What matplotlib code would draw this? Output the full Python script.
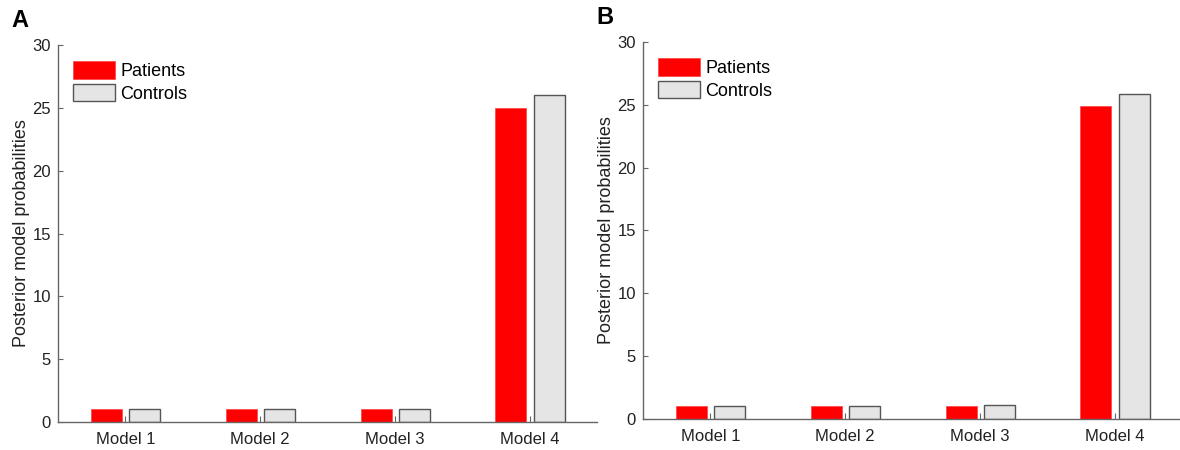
import numpy as np
import matplotlib.pyplot as plt
from matplotlib.patches import Patch

plt.rcParams['font.family'] = ['Liberation Sans', 'DejaVu Sans']

models = ["Model 1", "Model 2", "Model 3", "Model 4"]

# panel A
patients_a = [1.0, 1.0, 1.0, 25.0]
controls_a = [1.0, 1.0, 1.0, 26.0]

# panel B
patients_b = [1.0, 1.0, 1.0, 24.9]
controls_b = [1.0, 1.0, 1.1, 25.85]

red = "#ff0000"
grey = "#e5e5e5"
axis_col = "#666666"


def draw_panel(ax, patients, controls, letter):
    x = np.arange(1, len(models) + 1)
    w = 0.23
    ax.bar(x - 0.14, patients, w, color=red, edgecolor="#ff4040", linewidth=0.5)
    ax.bar(x + 0.145, controls, w, color=grey, edgecolor="#555555", linewidth=1.0)
    ax.set_xlim(0.5, 4.5)
    ax.set_ylim(0, 30)
    ax.set_xticks(x)
    ax.set_xticklabels(models, fontsize=12)
    ax.set_yticks(np.arange(0, 31, 5))
    ax.tick_params(axis='y', direction='in', length=3.5, colors=axis_col,
                   labelcolor="#222222", labelsize=12, pad=5)
    ax.tick_params(axis='x', direction='in', length=4, colors=axis_col,
                   labelcolor="#222222", pad=7)
    for s in ["top", "right"]:
        ax.spines[s].set_visible(False)
    for s in ["left", "bottom"]:
        ax.spines[s].set_color(axis_col)
        ax.spines[s].set_linewidth(1.0)
    ax.set_ylabel("Posterior model probabilities", fontsize=13, color="#222222",
                  labelpad=2)
    handles = [Patch(facecolor=red, edgecolor="#ff4040", linewidth=0.5),
               Patch(facecolor=grey, edgecolor="#555555", linewidth=1.0)]
    ax.legend(handles, ["Patients", "Controls"], loc="upper left",
              bbox_to_anchor=(0.005, 0.99), frameon=False, fontsize=13,
              handlelength=2.3, handleheight=1.1, handletextpad=0.3,
              labelspacing=0.2, borderaxespad=0.3)
    ax.text(-0.087, 1.035, letter, transform=ax.transAxes, fontsize=17,
            fontweight="bold", va="bottom", ha="left")


fig = plt.figure(figsize=(11.8, 4.5), dpi=100)
ax_a = fig.add_axes([0.0492, 0.0622, 0.4568, 0.8378])
ax_b = fig.add_axes([0.5449, 0.0689, 0.4568, 0.8378])

draw_panel(ax_a, patients_a, controls_a, "A")
draw_panel(ax_b, patients_b, controls_b, "B")

fig.savefig("out.png", dpi=100)
